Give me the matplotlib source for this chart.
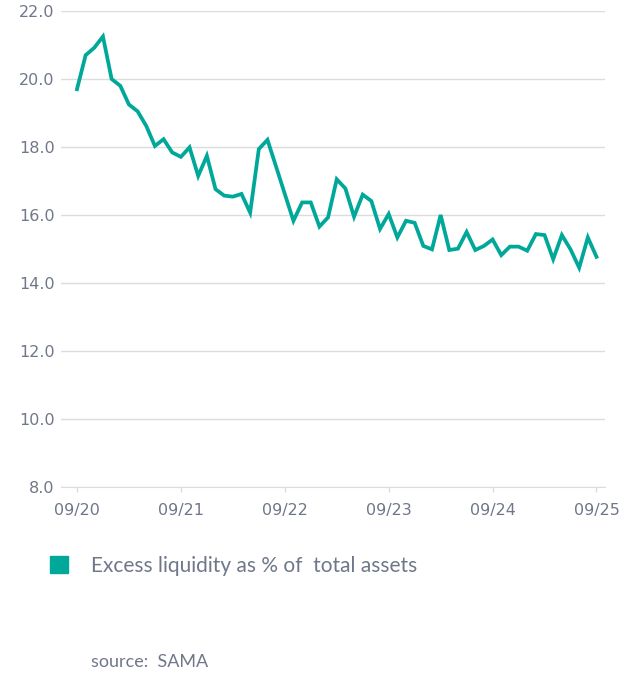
import matplotlib.pyplot as plt
import numpy as np

# monthly observations, 09/2020 .. 09/2025
excess_liquidity = [
    19.70, 20.70, 20.92, 21.25, 20.00, 19.80, 19.25, 19.05, 18.62, 18.03,
    18.23, 17.84, 17.71, 17.99, 17.15, 17.74, 16.76, 16.57, 16.54, 16.62,
    16.07, 17.94, 18.21, 17.42, 16.62, 15.83, 16.37, 16.37, 15.66, 15.93,
    17.05, 16.78, 15.95, 16.60, 16.41, 15.59, 16.03, 15.34, 15.83, 15.77,
    15.09, 14.99, 16.00, 14.97, 15.01, 15.50, 14.97, 15.09, 15.28, 14.82,
    15.07, 15.07, 14.95, 15.44, 15.41, 14.70, 15.41, 14.99, 14.45, 15.34,
    14.77,
]
tick_labels = ["09/20", "09/21", "09/22", "09/23", "09/24", "09/25"]
y_ticks = [8.0, 10.0, 12.0, 14.0, 16.0, 18.0, 20.0, 22.0]

teal = "#00a89a"
txt = "#6f7789"
grid = "#dcdcdc"

plt.rcParams['font.family'] = ['Lato', 'DejaVu Sans']

fig = plt.figure(figsize=(6.35, 6.75), dpi=100)
ax = fig.add_axes([0.096, 0.2785, 0.857, 0.7052])

months = np.arange(len(excess_liquidity))
ax.plot(months, excess_liquidity, color=teal, lw=2.7, solid_joinstyle='miter')

ax.set_ylim(8, 22)
ax.set_xlim(-1.85, 61.0)
ax.set_yticks(y_ticks)
ax.set_yticklabels([f"{v:.1f}" for v in y_ticks], family='DejaVu Sans')
ax.set_xticks(np.arange(0, 61, 12))
ax.set_xticklabels(tick_labels, family='DejaVu Sans')

ax.grid(axis='y', color=grid, lw=1)
ax.set_axisbelow(True)
for s in ['top', 'right', 'left']:
    ax.spines[s].set_visible(False)
ax.spines['bottom'].set_color(grid)
ax.tick_params(axis='y', length=0, pad=4.5, labelsize=11.5, labelcolor=txt)
ax.tick_params(axis='x', length=3.6, width=1, color=grid, pad=8,
               labelsize=11.5, labelcolor=txt)

# legend
fig.patches.append(plt.Rectangle((50 / 635, 1 - 573 / 675), 18 / 635, 17 / 675,
                                 transform=fig.transFigure, color=teal))
fig.text(91 / 635, 1 - 566 / 675, "Excess liquidity as % of  total assets",
         fontsize=15, color=txt, va='center', ha='left')
fig.text(91 / 635, 1 - 662 / 675, "source:  SAMA",
         fontsize=13, color=txt, va='center', ha='left')

fig.savefig("out.png", dpi=100, facecolor='white')
